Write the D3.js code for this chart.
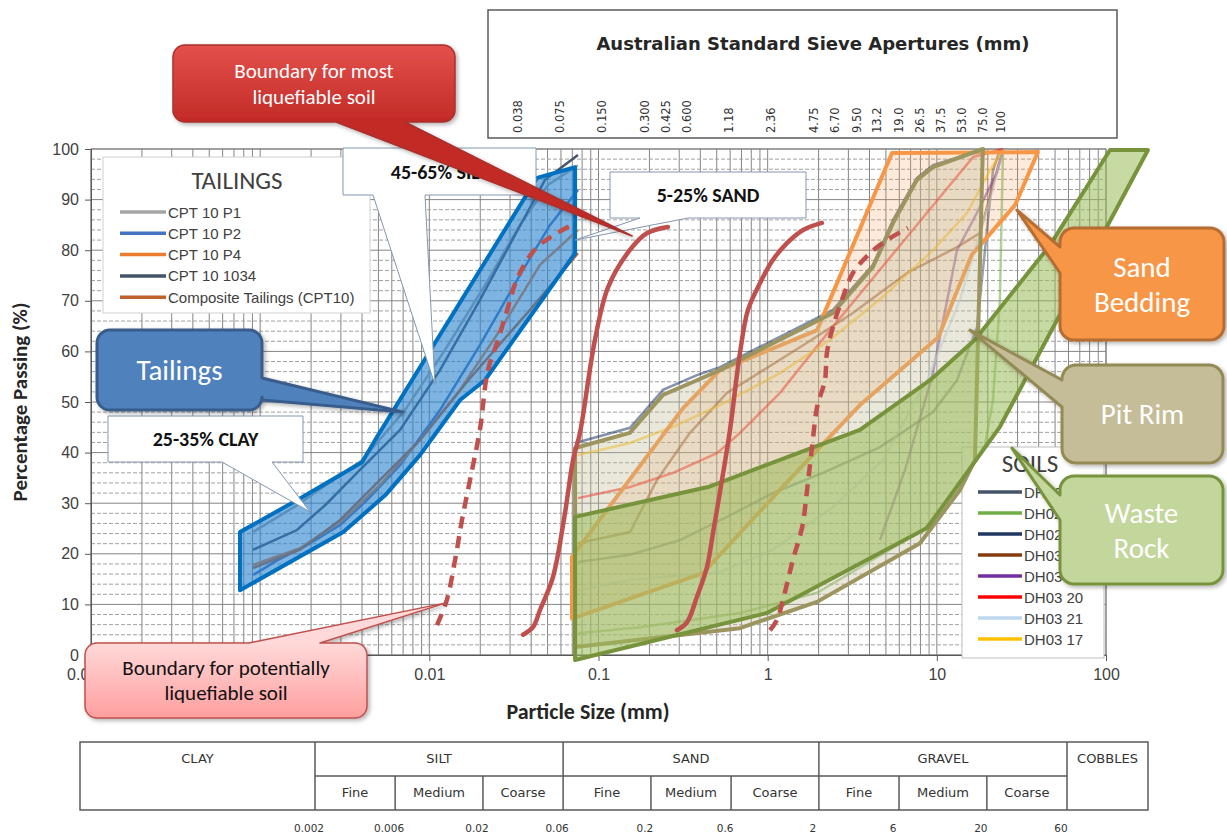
<!DOCTYPE html>
<html>
<head>
<meta charset="utf-8">
<script src="https://cdn.jsdelivr.net/npm/d3@7"></script>
<style>
  body { margin: 0; background: #fff; }
  svg { display: block; }
</style>
</head>
<body>
<svg id="chart" width="1227" height="835"></svg>
<script>
// ---------- data ----------
const yTicks = [0, 10, 20, 30, 40, 50, 60, 70, 80, 90, 100];
const xTicks = [0.0001, 0.01, 0.1, 1, 10, 100];
const xTickLabels = ["0.0001", "0.01", "0.1", "1", "10", "100"];

const sieveSizes = [0.038, 0.075, 0.150, 0.300, 0.425, 0.600, 1.18, 2.36, 4.75, 6.70, 9.50, 13.2, 19.0, 26.5, 37.5, 53.0, 75.0, 100];
const sieveLabels = ["0.038", "0.075", "0.150", "0.300", "0.425", "0.600", "1.18", "2.36", "4.75", "6.70", "9.50", "13.2", "19.0", "26.5", "37.5", "53.0", "75.0", "100"];

// tailings samples [size mm, % passing]
const tailingsNames = ["CPT 10 P1", "CPT 10 P2", "CPT 10 P4", "CPT 10 1034", "Composite Tailings (CPT10)"];
const tailingsColors = ["#a5a5a5", "#4472c4", "#ed7d31", "#44546a", "#c0602a"];
const tailP1 = [[0.000907, 24.3], [0.00165, 29.6], [0.0040, 38.5], [0.00718, 48.4], [0.01238, 60.3], [0.02133, 73.1], [0.03436, 85.0], [0.0503, 92.9], [0.0756, 96.8]];
const tailP2 = [[0.000907, 15.8], [0.001275, 18.8], [0.00189, 21.7], [0.00297, 25.7], [0.00428, 30.6], [0.00671, 37.5], [0.01156, 48.4], [0.01993, 61.3], [0.03436, 75.1], [0.0517, 85.0], [0.0756, 91.9]];
const tailP4 = [[0.000907, 17.8], [0.00172, 21.1], [0.00309, 26.7], [0.00511, 33.6], [0.00881, 42.5], [0.01518, 52.4], [0.02617, 64.2], [0.0451, 77.1], [0.0756, 84.0]];
const tail1034 = [[0.000907, 20.8], [0.00165, 24.7], [0.00242, 29.6], [0.00389, 36.6], [0.00671, 44.5], [0.01156, 56.3], [0.01993, 70.2], [0.0321, 83.0], [0.0483, 93.9], [0.0756, 98.8]];
const tailComposite = [[0.000907, 17.2], [0.00172, 20.8], [0.00297, 26.7], [0.00511, 34.6], [0.00881, 42.5], [0.0174, 54.7], [0.03936, 68.2], [0.0756, 79.4]];
const tailingsSeries = [tailP1, tailP2, tailP4, tail1034, tailComposite];

// soil samples
const soilNames = ["DH02 2", "DH02 4", "DH02 8", "DH03 5", "DH03 11", "DH03 20", "DH03 21", "DH03 17"];
const soilColors = ["#44546a", "#70ad47", "#1f3864", "#843c0c", "#7030a0", "#ff0000", "#bdd7ee", "#ffc000"];
const soilA = [[0.0756, 18.4], [0.1536, 19.8], [0.3032, 22.7], [0.5747, 27.3], [1.075, 32.0], [2.12, 36.0], [4.61, 41.1], [9.49, 48.0], [13.16, 54.3], [17.28, 64.8], [19.26, 80.0], [21.48, 95.8], [23.6, 99.8]];
const soilB = [[0.0756, 4.3], [0.176, 5.5], [0.686, 8.3], [1.96, 12.3], [8.28, 24.7], [13.16, 32.6], [19.26, 41.5], [21.48, 50.4], [23.6, 70.2], [24.6, 99.8]];
const soilC = [[0.0727, 41.9], [0.1536, 44.9], [0.2406, 52.4], [0.382, 55.3], [0.522, 56.9], [2.43, 68.2], [4.19, 77.1], [5.51, 86.0], [7.63, 94.3], [9.49, 96.8], [19.26, 100]];
const soilD = [[0.0756, 22.1], [0.1536, 24.3], [0.2217, 34.6], [0.3474, 43.9], [0.5747, 51.8], [1.71, 61.7], [3.19, 67.6], [6.66, 75.5], [13.16, 80.6], [17.99, 83.4], [22.68, 95.8], [24.6, 99.8]];
const soilE = [[4.61, 22.7], [6.48, 36.6], [9.36, 54.9], [13.16, 80.0], [17.28, 87.4], [22.68, 95.3], [24.6, 99.8]];
const soilF = [[0.0756, 31.0], [0.1536, 33.2], [0.2757, 36.0], [0.5017, 39.9], [0.686, 43.9], [1.183, 51.8], [2.336, 64.2], [3.66, 72.1], [6.66, 82.6], [10.44, 90.5], [16.36, 98.4], [24.6, 100]];
const soilG = [[0.0756, 12.8], [0.1536, 14.8], [0.522, 16.4], [1.075, 20.8], [2.43, 29.2], [4.80, 38.5], [8.75, 54.3], [13.7, 70.2], [20.62, 89.9], [24.6, 99.8]];
const soilH = [[0.0756, 39.5], [0.1536, 41.9], [0.2757, 45.1], [0.522, 49.4], [1.183, 55.7], [2.336, 62.3], [4.80, 70.8], [9.49, 80.0], [15.08, 87.4], [20.62, 95.8], [24.6, 99.8]];
const soilSeries = [soilA, soilB, soilC, soilD, soilE, soilF, soilG, soilH];

// envelopes
const tailingsEnvelope = [[0.00076, 24.3], [0.00165, 30.6], [0.0040, 38.1], [0.0049, 43.1], [0.0433, 94.3], [0.0727, 96.4], [0.0727, 79.4], [0.0213, 54.3], [0.0152, 50.4], [0.0088, 39.5], [0.0055, 31.6], [0.0031, 24.3], [0.00076, 12.8]];
const sandBedding = [[0.0697, 7.2], [0.0697, 19.4], [0.316, 48.8], [0.522, 56.3], [1.96, 64.2], [5.43, 99.2], [39.6, 99.4], [29.0, 88.9], [16.1, 79.1], [10.2, 62.8], [3.51, 49.4], [1.96, 40.5], [1.135, 32.0], [0.415, 16.2]];
const pitRim = [[0.0727, 1.6], [0.0727, 40.9], [0.153, 43.9], [0.2406, 51.4], [0.382, 54.3], [0.522, 56.3], [2.43, 67.6], [4.19, 76.7], [5.51, 85.4], [7.63, 93.9], [9.49, 96.4], [18.7, 100], [16.8, 38.5], [13.7, 32.6], [7.95, 22.1], [1.96, 10.5], [0.686, 5.3]];
const wasteRock = [[0.0727, -1.0], [0.0727, 27.3], [0.444, 33.2], [3.51, 44.5], [9.11, 54.3], [16.8, 62.3], [46.7, 81.0], [105.6, 99.8], [177, 99.8], [23.6, 45.1], [8.75, 25.1], [0.99, 8.3]];

// liquefaction boundaries
const mostLiqLeft = [[0.0358, 4.0], [0.0410, 5.5], [0.0451, 8.9], [0.0538, 15.4], [0.0634, 28.1], [0.0707, 38.5], [0.0777, 43.9], [0.0953, 62.3], [0.114, 72.7], [0.153, 80.0], [0.194, 83.4], [0.257, 84.6]];
const mostLiqRight = [[0.291, 4.9], [0.334, 6.5], [0.382, 11.5], [0.438, 17.4], [0.475, 24.1], [0.537, 34.6], [0.599, 44.5], [0.686, 59.7], [0.765, 68.2], [0.901, 73.5], [1.075, 78.1], [1.30, 81.4], [1.62, 84.0], [2.09, 85.4]];
const potLiqLeft = [[0.0111, 5.9], [0.0127, 10.9], [0.0142, 18.8], [0.0156, 26.7], [0.0174, 34.6], [0.0199, 44.5], [0.0222, 56.3], [0.0255, 62.3], [0.0292, 68.8], [0.0334, 74.7], [0.0433, 80.6], [0.0697, 85.0]];
const potLiqRight = [[1.032, 4.9], [1.135, 6.9], [1.232, 10.9], [1.41, 18.8], [1.60, 25.3], [1.71, 32.6], [1.83, 41.1], [1.96, 49.0], [2.18, 54.3], [2.24, 59.7], [2.43, 64.8], [2.79, 70.8], [3.19, 75.5], [4.03, 79.4], [5.07, 82.0], [6.75, 84.4]];

// classification table
const mainClasses = ["CLAY", "SILT", "SAND", "GRAVEL", "COBBLES"];
const subClasses = ["Fine", "Medium", "Coarse"];
const classBounds = [0.002, 0.006, 0.02, 0.06, 0.2, 0.6, 2, 6, 20, 60];
const classBoundLabels = ["0.002", "0.006", "0.02", "0.06", "0.2", "0.6", "2", "6", "20", "60"];

// ---------- setup ----------
const svg = d3.select("#chart");
const CAL = "Carlito, Lato, 'Open Sans', sans-serif";
const ARIAL = "'Liberation Sans', Arial, sans-serif";
const TAH = "'DejaVu Sans', Verdana, sans-serif";

const x = d3.scaleLog().domain([1e-4, 100]).range([91, 1106]);
const y = d3.scaleLinear().domain([0, 100]).range([655, 149]);
const line = d3.line().x(d => x(d[0])).y(d => y(d[1]));
const smooth = d3.line().x(d => x(d[0])).y(d => y(d[1])).curve(d3.curveCatmullRom);

const defs = svg.append("defs");
const gradRed = defs.append("linearGradient").attr("id", "gRed")
  .attr("gradientUnits", "userSpaceOnUse").attr("x1", 0).attr("x2", 0).attr("y1", 45).attr("y2", 122);
gradRed.append("stop").attr("offset", 0).attr("stop-color", "#e4504c");
gradRed.append("stop").attr("offset", 1).attr("stop-color", "#c22a26");
const gradPink = defs.append("linearGradient").attr("id", "gPink")
  .attr("gradientUnits", "userSpaceOnUse").attr("x1", 0).attr("x2", 0).attr("y1", 643).attr("y2", 718);
gradPink.append("stop").attr("offset", 0).attr("stop-color", "#ffd9d9");
gradPink.append("stop").attr("offset", 1).attr("stop-color", "#ff9e9e");
const shadow = defs.append("filter").attr("id", "shadow").attr("x", "-10%").attr("y", "-10%").attr("width", "130%").attr("height", "130%");
shadow.append("feDropShadow").attr("dx", 2).attr("dy", 2).attr("stdDeviation", 2).attr("flood-opacity", 0.3);

// ---------- sieve aperture box ----------
const sieve = d3.scaleLog().domain([0.038, 100]).range([518, 1001]);
const sg = svg.append("g");
sg.append("rect").attr("x", 488).attr("y", 10).attr("width", 629).attr("height", 128)
  .attr("fill", "#fff").attr("stroke", "#595959").attr("stroke-width", 1.5);
sg.append("text").attr("x", 813).attr("y", 50).attr("text-anchor", "middle")
  .style("font-family", TAH).style("font-weight", "bold").style("font-size", "18px").attr("fill", "#262626")
  .text("Australian Standard Sieve Apertures (mm)");
sg.selectAll("text.sv").data(sieveSizes).join("text").attr("class", "sv")
  .attr("transform", d => `translate(${sieve(d) + 4},133) rotate(-90)`)
  .style("font-family", TAH).style("font-size", "11.5px").attr("fill", "#333")
  .text((d, i) => sieveLabels[i]);

// ---------- grid ----------
const grid = svg.append("g");
const minorX = [];
for (let e = -4; e < 2; e++) for (let k = 1; k < 10; k++) minorX.push(k * Math.pow(10, e));
minorX.push(100);
grid.selectAll("line.vx").data(minorX).join("line")
  .attr("x1", d => x(d)).attr("x2", d => x(d)).attr("y1", y(100)).attr("y2", y(0))
  .attr("stroke", "#858585").attr("stroke-width", 1);
grid.selectAll("line.hy").data(d3.range(0, 101, 2)).join("line")
  .attr("x1", x(1e-4)).attr("x2", x(100)).attr("y1", d => y(d)).attr("y2", d => y(d))
  .attr("stroke", d => d % 10 === 0 ? "#858585" : "#a0a0a0")
  .attr("stroke-dasharray", d => d % 10 === 0 ? null : "4,2");
grid.append("rect").attr("x", x(1e-4)).attr("y", y(100)).attr("width", x(100) - x(1e-4)).attr("height", y(0) - y(100))
  .attr("fill", "none").attr("stroke", "#7f7f7f");

// axes
const yAxis = svg.append("g").attr("transform", `translate(${x(1e-4)},0)`)
  .call(d3.axisLeft(y).tickValues(yTicks).tickSize(6).tickPadding(6).tickFormat(d3.format("d")));
const xAxis = svg.append("g").attr("transform", `translate(0,${y(0)})`)
  .call(d3.axisBottom(x).tickValues(xTicks).tickSize(6).tickPadding(8).tickFormat((d, i) => xTickLabels[i]));
[yAxis, xAxis].forEach(a => {
  a.select(".domain").attr("stroke", "#595959");
  a.selectAll(".tick line").attr("stroke", "#595959");
  a.selectAll("text").style("font-family", ARIAL).style("font-size", "16px").attr("fill", "#404040");
});

svg.append("text").attr("transform", `translate(27,402) rotate(-90)`).attr("text-anchor", "middle")
  .style("font-family", CAL).style("font-weight", "bold").style("font-size", "21px").attr("fill", "#262626")
  .text("Percentage Passing (%)");
svg.append("text").attr("x", 588).attr("y", 719).attr("text-anchor", "middle")
  .style("font-family", CAL).style("font-weight", "bold").style("font-size", "22px").attr("fill", "#262626")
  .text("Particle Size (mm)");

// ---------- legends ----------
const lt = svg.append("g");
lt.append("rect").attr("x", 103).attr("y", 157).attr("width", 267).attr("height", 156)
  .attr("fill", "#fff").attr("stroke", "#d0d0d0");
lt.append("text").attr("x", 237).attr("y", 189).attr("text-anchor", "middle")
  .style("font-family", CAL).style("font-size", "25px").attr("fill", "#404040").text("TAILINGS");
tailingsNames.forEach((n, i) => {
  const yy = 212 + i * 21.3;
  lt.append("line").attr("x1", 120).attr("x2", 166).attr("y1", yy).attr("y2", yy)
    .attr("stroke", tailingsColors[i]).attr("stroke-width", 3.5);
  lt.append("text").attr("x", 168).attr("y", yy + 5.5)
    .style("font-family", ARIAL).style("font-size", "15px").attr("fill", "#404040").text(n);
});

const ls = svg.append("g");
ls.append("rect").attr("x", 962).attr("y", 447).attr("width", 142).attr("height", 211)
  .attr("fill", "#fff").attr("stroke", "#bfbfbf");
ls.append("text").attr("x", 1030).attr("y", 472).attr("text-anchor", "middle")
  .style("font-family", CAL).style("font-size", "25px").attr("fill", "#404040").text("SOILS");
soilNames.forEach((n, i) => {
  const yy = 492 + i * 21;
  ls.append("line").attr("x1", 978).attr("x2", 1022).attr("y1", yy).attr("y2", yy)
    .attr("stroke", soilColors[i]).attr("stroke-width", 3.5);
  ls.append("text").attr("x", 1024).attr("y", yy + 5.5)
    .style("font-family", ARIAL).style("font-size", "15px").attr("fill", "#404040").text(n);
});

// ---------- soil curves and envelopes ----------
const plot = svg.append("g");
soilSeries.forEach((s, i) => {
  plot.append("path").attr("d", line(s)).attr("fill", "none")
    .attr("stroke", soilColors[i]).attr("stroke-width", 2.5).attr("opacity", 0.55);
});
const envelope = (pts, fill, stroke) => plot.append("path").attr("d", line(pts) + "Z")
  .attr("fill", fill).attr("stroke", stroke).attr("stroke-width", 4).attr("stroke-linejoin", "round");
envelope(sandBedding, "rgba(247,150,70,0.2)", "#f79646");
envelope(pitRim, "rgba(196,189,151,0.35)", "#9d955f");
envelope(wasteRock, "rgba(155,187,89,0.55)", "#77933c");

// tailings
tailingsSeries.forEach((s, i) => {
  plot.append("path").attr("d", line(s)).attr("fill", "none")
    .attr("stroke", tailingsColors[i]).attr("stroke-width", 2.5);
});
envelope(tailingsEnvelope, "rgba(40,130,205,0.6)", "#0070c0");

// liquefaction boundaries
[mostLiqLeft, mostLiqRight].forEach(s => plot.append("path").attr("d", smooth(s))
  .attr("fill", "none").attr("stroke", "#c0504d").attr("stroke-width", 4.5).attr("stroke-linecap", "round"));
[potLiqLeft, potLiqRight].forEach(s => plot.append("path").attr("d", smooth(s))
  .attr("fill", "none").attr("stroke", "#c0504d").attr("stroke-width", 4.5).attr("stroke-dasharray", "12,8"));

// ---------- callouts ----------
function calloutPath(c, tx, ty) {
  const { x: bx, y: by, w, h, r, side, p0, p1 } = c;
  const arc = (ex, ey) => r ? `A${r},${r} 0 0 1 ${ex},${ey}` : `L${ex},${ey}`;
  let d = `M${bx + r},${by}`;
  if (side === "top") d += `L${p0},${by}L${tx},${ty}L${p1},${by}`;
  d += `L${bx + w - r},${by}` + arc(bx + w, by + r);
  if (side === "right") d += `L${bx + w},${p0}L${tx},${ty}L${bx + w},${p1}`;
  d += `L${bx + w},${by + h - r}` + arc(bx + w - r, by + h);
  if (side === "bottom") d += `L${p1},${by + h}L${tx},${ty}L${p0},${by + h}`;
  d += `L${bx + r},${by + h}` + arc(bx, by + h - r);
  if (side === "left") d += `L${bx},${p1}L${tx},${ty}L${bx},${p0}`;
  d += `L${bx},${by + r}` + arc(bx + r, by);
  return d + "Z";
}

const callouts = [
  { x: 343, y: 148, w: 193, h: 47, r: 0, side: "bottom", p0: 373, p1: 425, tip: [0.0108, 53.4],
    fill: "#fff", stroke: "#8497b0", sw: 1, lines: ["45-65% SILT"], color: "#111", size: 20, weight: "bold", lh: 0 },
  { x: 610, y: 172, w: 196, h: 46, r: 0, side: "bottom", p0: 640, p1: 688, tip: [0.0727, 82.0],
    fill: "#fff", stroke: "#8497b0", sw: 1, lines: ["5-25% SAND"], color: "#111", size: 20, weight: "bold", lh: 0 },
  { x: 108, y: 416, w: 195, h: 46, r: 0, side: "bottom", p0: 222, p1: 272, tip: [0.00197, 28.3],
    fill: "#fff", stroke: "#8497b0", sw: 1, lines: ["25-35% CLAY"], color: "#111", size: 20, weight: "bold", lh: 0 },
  { x: 97, y: 330, w: 165, h: 80, r: 13, side: "right", p0: 378, p1: 400, tip: [0.00699, 48.0],
    fill: "#4f81bd", stroke: "#385d8a", sw: 3, lines: ["Tailings"], color: "#fff", size: 29, weight: "normal", lh: 0, shadow: true },
  { x: 173, y: 45, w: 282, h: 77, r: 12, side: "bottom", p0: 336, p1: 405, tip: [0.158, 82.8],
    fill: "url(#gRed)", stroke: "#a8302d", sw: 1.5, lines: ["Boundary for most", "liquefiable soil"], color: "#fff", size: 21, weight: "normal", lh: 26, shadow: true },
  { x: 85, y: 643, w: 282, h: 75, r: 12, side: "top", p0: 249, p1: 320, tip: [0.01255, 10.3],
    fill: "url(#gPink)", stroke: "#c0504d", sw: 1.5, lines: ["Boundary for potentially", "liquefiable soil"], color: "#111", size: 21, weight: "normal", lh: 25, shadow: true },
  { x: 1060, y: 228, w: 164, h: 112, r: 14, side: "left", p0: 247, p1: 273, tip: [29.8, 87.9],
    fill: "#f79646", stroke: "#b66d31", sw: 3, lines: ["Sand", "Bedding"], color: "#fff", size: 29, weight: "normal", lh: 35, shadow: true },
  { x: 1062, y: 365, w: 161, h: 98, r: 14, side: "left", p0: 380, p1: 407, tip: [15.7, 64.2],
    fill: "#c4bd97", stroke: "#948a54", sw: 3, lines: ["Pit Rim"], color: "#fff", size: 29, weight: "normal", lh: 0, shadow: true },
  { x: 1060, y: 476, w: 163, h: 108, r: 14, side: "left", p0: 495, p1: 520, tip: [27.8, 40.9],
    fill: "#c3d69b", stroke: "#77933c", sw: 3, lines: ["Waste", "Rock"], color: "#fff", size: 29, weight: "normal", lh: 35, shadow: true }
];

const cg = svg.append("g");
callouts.forEach(c => {
  const g = cg.append("g");
  g.append("path").attr("d", calloutPath(c, x(c.tip[0]), y(c.tip[1])))
    .attr("fill", c.fill).attr("stroke", c.stroke).attr("stroke-width", c.sw)
    .attr("stroke-linejoin", "round").attr("filter", c.shadow ? "url(#shadow)" : null);
  const cx = c.x + c.w / 2, cy = c.y + c.h / 2;
  c.lines.forEach((t, i) => {
    g.append("text").attr("x", cx).attr("y", cy + (i - (c.lines.length - 1) / 2) * c.lh)
      .attr("text-anchor", "middle").attr("dominant-baseline", "central")
      .style("font-family", CAL).style("font-size", c.size + "px").style("font-weight", c.weight)
      .attr("fill", c.color).text(t);
  });
});

// ---------- classification table ----------
const tx = d3.scaleLog().domain([0.002, 60]).range([315, 1067]);
const tb = svg.append("g").attr("stroke", "#595959").attr("stroke-width", 1.5);
const tLeft = 80, tRight = 1148, tTop = 742, tMid = 776, tBot = 810;
tb.append("rect").attr("x", tLeft).attr("y", tTop).attr("width", tRight - tLeft).attr("height", tBot - tTop).attr("fill", "#fff");
tb.append("line").attr("x1", tx(0.002)).attr("x2", tx(60)).attr("y1", tMid).attr("y2", tMid);
classBounds.forEach((b, i) => {
  const major = i % 3 === 0;
  tb.append("line").attr("x1", tx(b)).attr("x2", tx(b)).attr("y1", major ? tTop : tMid).attr("y2", tBot);
});
const mainEdges = [tLeft, tx(0.002), tx(0.06), tx(2), tx(60), tRight];
const tt = svg.append("g").style("font-family", TAH).style("font-size", "13px").attr("fill", "#333").attr("text-anchor", "middle");
mainClasses.forEach((n, i) => {
  tt.append("text").attr("x", (mainEdges[i] + mainEdges[i + 1]) / 2).attr("y", tTop + 21).text(n);
});
for (let i = 0; i < classBounds.length - 1; i++) {
  tt.append("text").attr("x", (tx(classBounds[i]) + tx(classBounds[i + 1])) / 2).attr("y", tMid + 21)
    .text(subClasses[i % 3]);
}
classBoundLabels.forEach((l, i) => {
  tt.append("text").attr("x", tx(classBounds[i]) - 6).attr("y", 832).style("font-size", "10.5px").text(l);
});
</script>
</body>
</html>
